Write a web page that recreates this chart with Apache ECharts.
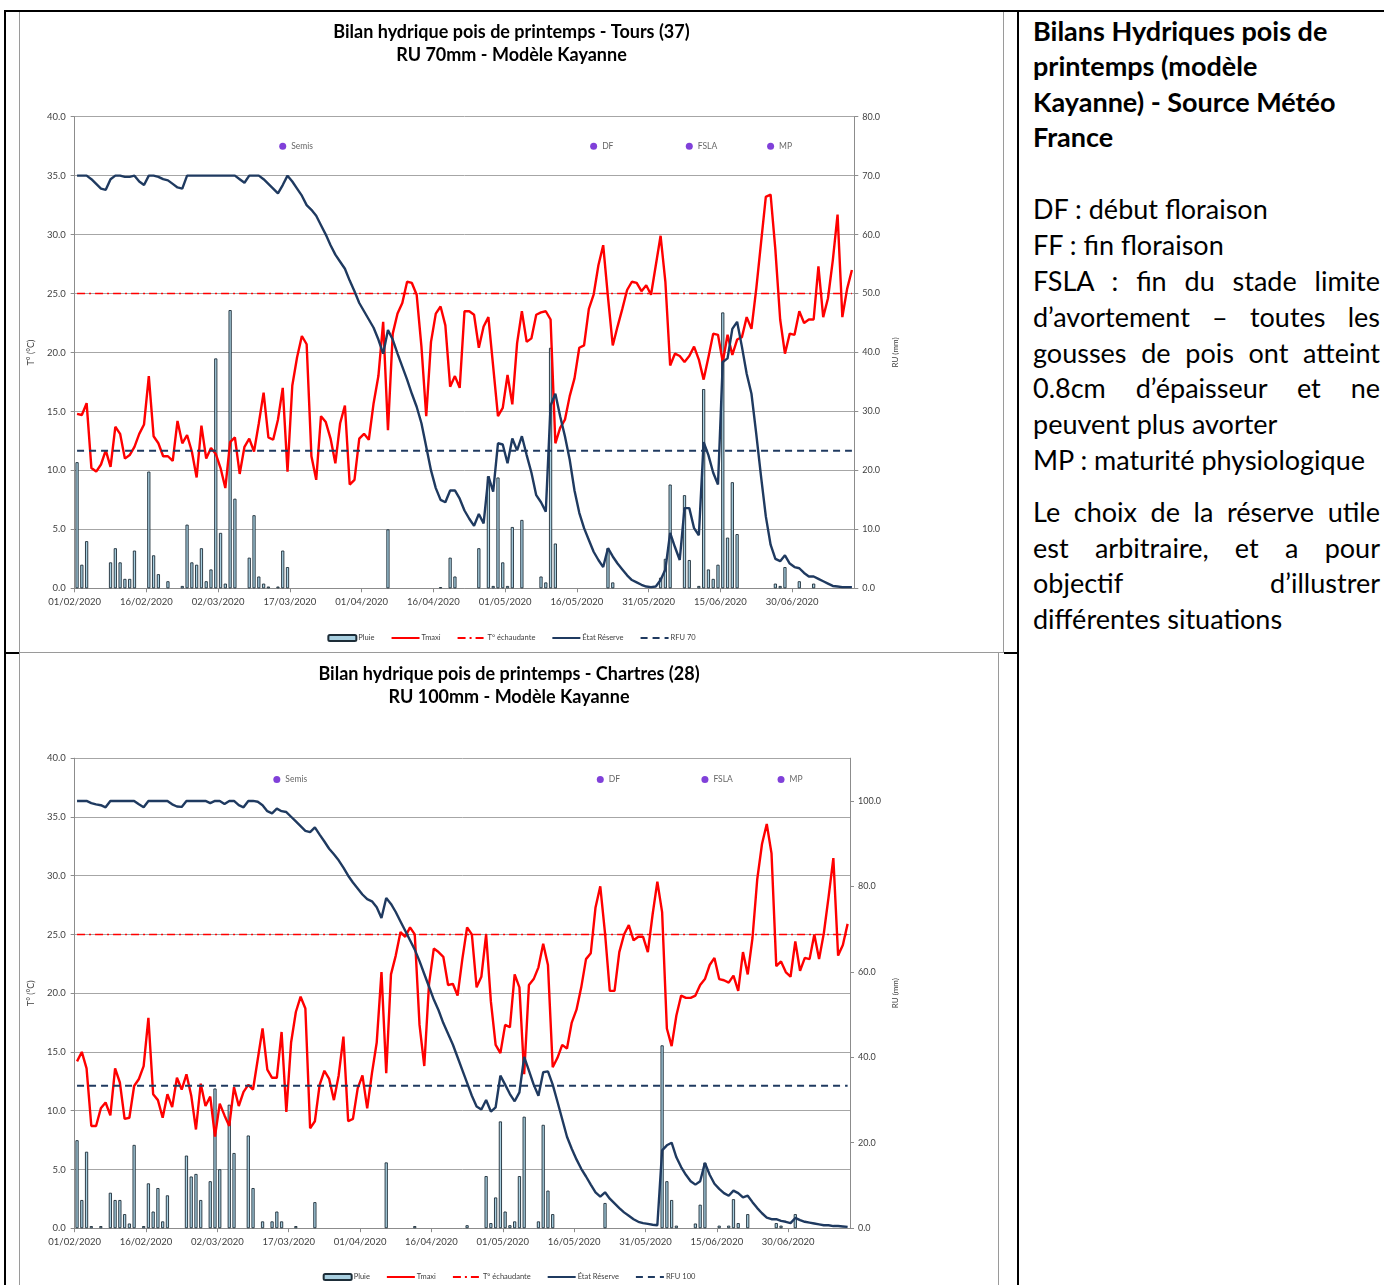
<!DOCTYPE html>
<html>
<head>
<meta charset="utf-8">
<script src="https://cdn.jsdelivr.net/npm/echarts@6/dist/echarts.min.js"></script>
<style>
  html, body { margin:0; padding:0; background:#fff; }
  body { width:1384px; height:1285px; position:relative; overflow:hidden; font-family: Lato, "Noto Sans", sans-serif; }
  .blk { position:absolute; background:#000; }
  .frame { position:absolute; box-sizing:border-box; pointer-events:none; }
  .chart { position:absolute; }
  .txt { position:absolute; left:1033px; width:347px; height:36px; line-height:36px; font-size:27px; color:#000; white-space:nowrap; }
  .b { font-weight:bold; }
  .j { text-align:justify; text-align-last:justify; white-space:normal; }
</style>
</head>
<body>
<div id="c1" class="chart" style="left:19px; top:12px; width:985px; height:641px;"></div>
<div id="c2" class="chart" style="left:19px; top:653px; width:980px; height:632px;"></div>

<div class="frame" style="left:19px; top:12px; width:985px; height:641px; border-left:1px solid #9a9a9a; border-right:1px solid #9a9a9a; border-bottom:1px solid #9a9a9a;"></div>
<div class="frame" style="left:19px; top:652px; width:980px; height:640px; border-left:1px solid #9a9a9a; border-right:1px solid #9a9a9a; border-top:1px solid #9a9a9a;"></div>

<div class="blk" style="left:4px; top:10px; width:1380px; height:2px;"></div>
<div class="blk" style="left:4px; top:10px; width:2px; height:1275px;"></div>
<div class="blk" style="left:1017px; top:10px; width:2px; height:1275px;"></div>
<div class="blk" style="left:4px; top:652px; width:15px; height:2px;"></div>
<div class="blk" style="left:1004px; top:652px; width:14px; height:2px;"></div>

<div class="txt b" style="top:13px;">Bilans Hydriques pois de</div>
<div class="txt b" style="top:48px;">printemps (modèle</div>
<div class="txt b" style="top:84px;">Kayanne) - Source Météo</div>
<div class="txt b" style="top:119px;">France</div>
<div class="txt" style="top:191px;">DF : début floraison</div>
<div class="txt" style="top:227px;">FF : fin floraison</div>
<div class="txt j" style="top:263px;">FSLA : fin du stade limite</div>
<div class="txt j" style="top:299px;">d’avortement – toutes les</div>
<div class="txt j" style="top:335px;">gousses de pois ont atteint</div>
<div class="txt j" style="top:370px;">0.8cm d’épaisseur et ne</div>
<div class="txt" style="top:406px;">peuvent plus avorter</div>
<div class="txt" style="top:442px;">MP : maturité physiologique</div>
<div class="txt j" style="top:494px;">Le choix de la réserve utile</div>
<div class="txt j" style="top:530px;">est arbitraire, et a pour</div>
<div class="txt j" style="top:565px;">objectif d’illustrer</div>
<div class="txt" style="top:601px;">différentes situations</div>

<script>
// ---------- shared ----------
const tickLabels = ['01/02/2020','16/02/2020','02/03/2020','17/03/2020','01/04/2020','16/04/2020','01/05/2020','16/05/2020','31/05/2020','15/06/2020','30/06/2020'];
const tickStepDays = 15;
const nDays = 163;            // 01/02/2020 .. 12/07/2020
const stageNames = ['Semis','DF','FSLA','MP'];
const seuilEchaudage = 25;    // °C

// ---------- Tours (37), RU 70 ----------
const toursTitle = 'Bilan hydrique pois de printemps - Tours (37)\nRU 70mm - Modèle Kayanne';
const toursRU = 70;
const toursRFU = 70 / 3;
const toursStageDays = [43, 108, 128, 145];
const toursStageLevel = 75;
const toursTmax = [14.8,14.7,15.7,10.2,9.9,10.5,11.7,10.3,13.7,13.1,11.0,11.3,12.0,13.1,13.9,18.0,12.9,12.3,11.2,11.2,
 10.8,14.2,12.3,13.0,11.6,9.4,13.8,11.0,11.9,11.4,10.2,8.5,12.4,12.8,9.7,12.0,12.7,11.6,14.0,16.6,
 12.8,12.6,14.3,17.0,9.9,17.2,19.6,21.4,20.7,11.2,9.2,14.6,14.1,12.7,10.6,14.0,15.5,8.8,9.2,12.7,
 13.1,12.6,15.7,18.0,22.6,13.4,21.6,23.3,24.2,26.0,25.9,24.9,20.5,14.6,20.9,23.3,23.9,22.3,17.1,18.0,
 17.0,23.5,23.5,23.2,20.4,22.2,23.0,18.8,14.6,15.3,18.1,15.6,20.8,23.5,20.9,21.2,23.2,23.4,23.5,22.8,
 12.3,13.6,14.3,16.3,17.8,20.4,20.6,23.7,24.9,27.4,29.1,24.7,20.6,22.2,23.7,25.3,26.0,25.9,25.2,25.7,
 24.9,27.4,29.9,26.0,18.9,19.9,19.7,19.2,19.7,20.5,19.4,17.7,19.6,21.6,21.5,19.2,21.5,19.8,21.1,21.3,
 23.0,22.0,25.4,29.3,33.2,33.4,28.7,22.8,19.9,21.6,21.5,23.5,22.5,22.8,22.8,27.3,23.0,24.6,27.8,31.7,
 23.0,25.4,27.0];
const toursReserve = [70,70,70,69.4,68.6,67.8,67.6,69.4,70,70,69.8,69.8,70,69,68.4,70,70,69.8,69.4,69.2,
 68.6,68,67.8,70,70,70,70,70,70,70,70,70,70,70,69.4,68.8,70,70,70,69.4,
 68.6,67.8,67,68.4,70,69,67.8,66.6,65,64.2,63.2,61.6,60,58.2,56.6,55.4,54.2,52.2,50.4,48.4,
 47,45.6,44.2,42.2,39.8,43.8,42.2,39.8,37.6,35.4,33.0,30.8,28.0,24.0,20.0,17.0,15.0,14.6,16.6,16.6,
 15.2,13.2,11.8,10.6,12.6,11.0,19.0,16.4,24.6,24.4,21.2,25.4,23.4,25.8,22.6,19.6,15.8,14.6,13.0,31.0,
 33.0,29.2,25.8,21.8,16.6,12.8,10.2,8.2,6.2,4.8,3.6,6.8,5.4,4.2,3.2,2.2,1.4,1.0,0.6,0.3,
 0.2,0.3,1.4,3.2,9.4,7.0,4.8,13.6,13.6,10.2,9.0,24.8,22.6,19.6,17.6,38.4,39.0,44.0,45.2,41.0,
 36.4,33.0,26.2,19.0,12.2,7.4,5.0,4.6,5.6,4.2,3.6,3.4,2.6,2.0,2.0,1.6,1.2,0.8,0.4,0.3,
 0.2,0.2,0.2];
const toursPluie = [21.4,4.0,8.0,0,0,0,0,4.4,6.8,4.4,1.6,1.6,6.4,0,0,19.8,5.6,2.4,0,1.2,
 0,0,0.4,10.8,4.4,4.0,6.8,1.2,3.2,39.0,9.4,0.8,47.2,15.2,0,0,5.2,12.4,2.0,0.8,
 0.3,0,0.3,6.4,3.6,0,0,0,0,0,0,0,0,0,0,0,0,0,0,0,
 0,0,0,0,0,10.0,0,0,0,0,0,0,0,0,0,0,0.2,0,5.2,2.0,
 0,0,0,0,6.8,0,19.0,0.4,18.8,4.4,0.4,10.4,0,11.6,0,0,0,2.0,1.0,40.8,
 7.6,0,0,0,0,0,0,0,0,0,0,6.8,1.0,0,0,0,0,0,0,0,
 0,0,1.8,5.0,17.6,0,0,15.8,4.8,0,0.4,33.8,3.2,1.6,4.0,46.8,8.6,18.0,9.2,0,
 0,0,0,0,0,0,0.8,0.4,3.6,0,0,1.2,0,0,0.8,0,0,0,0,0,
 0,0,0];

// ---------- Chartres (28), RU 100 ----------
const chartresTitle = 'Bilan hydrique pois de printemps - Chartres (28)\nRU 100mm - Modèle Kayanne';
const chartresRU = 100;
const chartresRFU = 100 / 3;
const chartresStageDays = [42, 110, 132, 148];
const chartresStageLevel = 105;
const chartresTmax = [14.2,15.0,13.6,8.7,8.7,10.2,10.7,9.6,13.6,12.4,9.3,9.4,12.1,12.7,13.8,17.9,11.4,10.9,9.4,11.4,
 10.3,12.8,11.8,13.1,11.3,8.4,12.3,10.4,11.2,7.8,10.6,9.6,8.7,12.0,10.4,11.6,12.2,11.8,14.4,17.0,
 13.5,12.8,12.8,16.7,9.9,15.8,18.4,19.7,18.7,8.5,9.1,12.2,13.4,12.7,10.9,13.0,16.3,9.1,9.3,11.9,
 13.0,10.2,13.2,15.8,21.8,13.2,21.6,23.2,25.2,24.8,25.6,25.0,17.3,13.8,20.8,23.8,23.5,23.1,20.7,20.8,
 19.8,22.9,25.6,25.0,20.5,21.4,25.0,19.3,15.6,14.9,17.3,17.1,21.6,20.5,13.1,20.7,21.2,22.2,24.2,22.4,
 13.7,14.5,15.6,15.3,17.5,18.6,20.5,22.9,23.4,27.3,29.1,25.1,20.2,20.2,23.5,25.0,25.8,24.5,24.8,24.8,
 23.5,26.7,29.5,26.9,17.0,15.5,18.1,19.8,19.6,19.6,19.8,20.7,21.2,22.4,23.0,21.2,21.1,20.9,21.5,20.2,
 23.5,21.6,24.7,29.7,32.7,34.4,31.9,22.3,22.7,21.8,21.4,24.4,21.9,23.0,22.9,25.0,22.9,25.1,28.2,31.5,
 23.2,24.1,25.9];
const chartresReserve = [100,100,100,99.5,99.2,99,98.5,100,100,100,100,100,100,99.2,98.5,100,100,100,100,100,
 99.2,98.7,98.6,100,100,100,100,100,99.5,100,100,99.3,100,100,99,98.5,100,100,99.8,99,
 97.6,97.1,98.2,97.6,97.4,96.3,95.2,94.1,93,92.7,93.8,92.1,90.5,88.8,87.5,86.1,84.4,82.5,80.9,79.5,
 78.1,77,76.5,75.1,72.6,77.3,75.9,74,71.8,69.6,67.4,65.2,62.5,59.5,56.5,53.5,51,48,45.5,43,
 40,37,34,31,28.5,27.8,30.0,27.3,28.3,35.7,33.6,31.4,29.7,31.8,40.1,36.9,33.6,31.0,36.5,36.7,
 33.6,29.6,25.5,21.4,18.6,16.1,13.9,12.1,10.2,8.4,7.4,8.4,6.9,5.8,4.7,3.7,2.9,2.1,1.5,1.2,
 1.0,0.8,0.7,18.2,19.4,20.0,16.6,14.3,12.5,11.0,10.2,11.0,15.3,12.5,10.4,9.2,8.2,7.6,8.8,8.2,
 7.2,7.6,6.1,4.7,3.5,2.5,2.1,2.1,1.7,1.5,1.2,2.4,1.9,1.5,1.3,1.1,0.9,0.7,0.7,0.5,
 0.5,0.4,0.3];
const chartresPluie = [20.6,6.6,17.9,0.5,0,0.5,0,8.3,6.6,6.6,3.3,1.1,19.5,0,0.5,10.5,3.9,9.4,1.6,7.7,
 0,0,0,17.0,12.1,12.7,6.6,0,11.0,32.7,13.8,0,28.9,17.6,0,0,21.7,9.4,0,1.6,
 0,1.6,3.9,1.6,0,0,0.5,0,0,0,6.1,0,0,0,0,0,0,0,0,0,
 0,0,0,0,0,15.4,0,0,0,0,0,0.5,0,0,0,0,0,0,0,0,
 0,0,0.7,0,0,0,12.2,1.2,7.2,25.0,3.9,0.7,1.6,12.2,26.1,0,0,1.6,24.2,8.8,
 3.3,0,0,0,0,0,0,0,0,0,0,5.9,0,0,0,0,0,0,0,0,
 0,0,0,42.8,11.0,6.6,0.6,0,0,0,1.1,5.5,15.3,0,0,0.6,0,0.6,6.8,1.2,
 0,3.3,0,0,0,0,0,1.2,0.6,0,0,3.3,0,0,0,0,0,0,0,0,
 0,0,0];

// ---------- builder ----------
const FONT = 'Lato';
const LBL = '#404040';
const AX = '#8c8c8c';

function build(cfg) {
  const pos = i => i + 0.5;
  const seriesPts = arr => arr.map((v, i) => [pos(i), v]);
  const barPts = cfg.pluie.map((v, i) => [pos(i), v]).filter(p => p[1] > 0);
  const seuilPts = cfg.tmax.map((v, i) => [pos(i), seuilEchaudage]);
  const rfuPts = cfg.reserve.map((v, i) => [pos(i), cfg.rfu]);
  const stagePts = cfg.stageDays.map((d, k) => ({ name: stageNames[k], value: [pos(d), cfg.stageLevel] }));
  const rfuName = 'RFU ' + cfg.ru;
  const lineLegend = n => ({ name: n, itemStyle: { opacity: 0 } });
  return {
    animation: false,
    textStyle: { fontFamily: FONT },
    title: {
      text: cfg.title, left: 'center', top: cfg.titleTop,
      textStyle: { fontFamily: FONT, fontSize: 18, fontWeight: 'bold', color: '#000', lineHeight: 23 }
    },
    legend: {
      data: [{ name: 'Pluie' }, lineLegend('Tmaxi'), lineLegend('T° échaudante'), lineLegend('État Réserve'), lineLegend(rfuName)],
      bottom: cfg.legendBottom, left: 'center',
      itemWidth: 28, itemHeight: 6, itemGap: 16,
      textStyle: { fontFamily: FONT, fontSize: 7.5, color: LBL, padding: [0, 0, 0, -3] }
    },
    grid: cfg.grid,
    xAxis: {
      type: 'value', min: 0, max: nDays, interval: tickStepDays,
      axisLine: { lineStyle: { color: AX } },
      axisTick: { length: 4, lineStyle: { color: AX } },
      splitLine: { show: false },
      axisLabel: {
        fontFamily: FONT, fontSize: 9.5, color: LBL, margin: 9, showMaxLabel: false,
        formatter: v => tickLabels[Math.round(v / tickStepDays)] || ''
      }
    },
    yAxis: [
      {
        type: 'value', min: 0, max: 40, interval: 5, position: 'left',
        name: 'T° (°C)', nameLocation: 'middle', nameGap: 33, nameRotate: 90,
        nameTextStyle: { fontFamily: FONT, fontSize: 9, color: LBL },
        axisLine: { show: true, lineStyle: { color: AX } },
        axisTick: { show: true, length: 4, lineStyle: { color: AX } },
        splitLine: { lineStyle: { color: '#a6a6a6', width: 1 } },
        axisLabel: { fontFamily: FONT, fontSize: 9.5, color: LBL, margin: 9, formatter: v => v.toFixed(1) }
      },
      {
        type: 'value', min: 0, max: cfg.rightMax, interval: cfg.rightStep, position: 'right',
        name: 'RU (mm)', nameLocation: 'middle', nameGap: cfg.rightNameGap, nameRotate: 90,
        nameTextStyle: { fontFamily: FONT, fontSize: 8, color: LBL },
        axisLine: { show: true, lineStyle: { color: AX } },
        axisTick: { show: true, length: 4, lineStyle: { color: AX } },
        splitLine: { show: false },
        axisLabel: { fontFamily: FONT, fontSize: 9, color: LBL, margin: 8, showMaxLabel: cfg.rightShowMax, formatter: v => v.toFixed(1) }
      }
    ],
    series: [
      {
        name: 'Pluie', type: 'bar', yAxisIndex: 1, data: barPts, barWidth: 3.2, z: 1,
        itemStyle: { color: '#a8cfe0', borderColor: '#1d2d38', borderWidth: 0.9 }
      },
      {
        name: 'Tmaxi', type: 'line', yAxisIndex: 0, data: seriesPts(cfg.tmax), symbol: 'none', z: 3,
        lineStyle: { color: '#ff0000', width: 2.4 }, itemStyle: { color: '#ff0000' }
      },
      {
        name: 'T° échaudante', type: 'line', yAxisIndex: 0, data: seuilPts, symbol: 'none', z: 3,
        lineStyle: { color: '#ff0000', width: 1.6, type: [8, 4, 2, 4] }, itemStyle: { color: '#ff0000' }
      },
      {
        name: 'État Réserve', type: 'line', yAxisIndex: 1, data: seriesPts(cfg.reserve), symbol: 'none', z: 4,
        lineStyle: { color: '#1f3a60', width: 2.4 }, itemStyle: { color: '#1f3a60' }
      },
      {
        name: rfuName, type: 'line', yAxisIndex: 1, data: rfuPts, symbol: 'none', z: 4,
        lineStyle: { color: '#1f3a60', width: 2, type: [7, 5] }, itemStyle: { color: '#1f3a60' }
      },
      {
        name: 'Stades', type: 'scatter', yAxisIndex: 1, data: stagePts, symbolSize: 7, z: 5,
        itemStyle: { color: '#6010d0' },
        label: { show: true, position: 'right', distance: 5, formatter: p => p.name,
                 fontFamily: FONT, fontSize: 8.5, color: LBL }
      }
    ]
  };
}

const c1 = echarts.init(document.getElementById('c1'), null, { renderer: 'canvas' });
c1.setOption(build({
  title: toursTitle, titleTop: 4,
  tmax: toursTmax, reserve: toursReserve, pluie: toursPluie,
  ru: toursRU, rfu: toursRFU, stageDays: toursStageDays, stageLevel: toursStageLevel,
  rightMax: 80, rightStep: 10, rightShowMax: true, rightNameGap: 36,
  legendBottom: 6,
  grid: { left: 54.3, top: 104.7, width: 781, height: 471.6 }
}));

const c2 = echarts.init(document.getElementById('c2'), null, { renderer: 'canvas' });
c2.setOption(build({
  title: chartresTitle, titleTop: 5,
  tmax: chartresTmax, reserve: chartresReserve, pluie: chartresPluie,
  ru: chartresRU, rfu: chartresRFU, stageDays: chartresStageDays, stageLevel: chartresStageLevel,
  rightMax: 110, rightStep: 20, rightShowMax: false, rightNameGap: 41,
  legendBottom: -1,
  grid: { left: 54.3, top: 105.2, width: 776.7, height: 470 }
}));
</script>
</body>
</html>
